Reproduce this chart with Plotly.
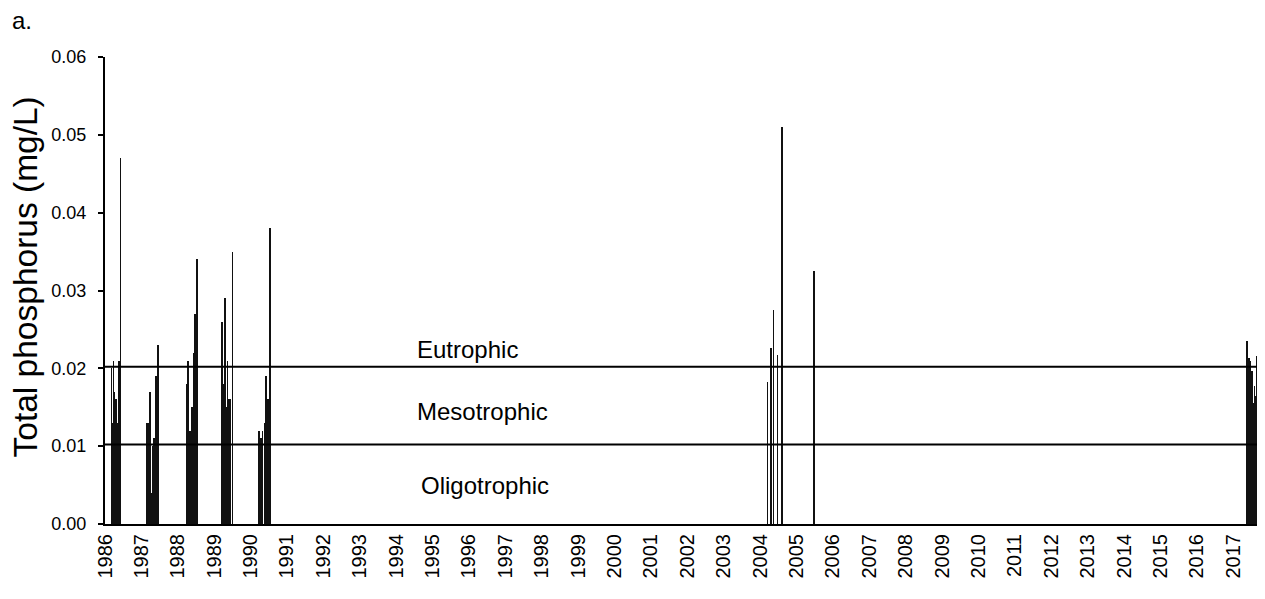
import plotly.graph_objects as go

# Sampling times (decimal years) and total phosphorus (mg/L)
sample_time = [
    1986.18, 1986.21, 1986.23, 1986.25, 1986.28, 1986.30, 1986.32, 1986.35, 1986.38, 1986.43,
    1987.16, 1987.20, 1987.245, 1987.27, 1987.31, 1987.355, 1987.39, 1987.41, 1987.45,
    1988.26, 1988.28, 1988.33, 1988.355, 1988.39, 1988.445, 1988.48, 1988.52,
    1989.21, 1989.255, 1989.29, 1989.325, 1989.37, 1989.415, 1989.45, 1989.50,
    1990.23, 1990.29, 1990.33, 1990.38, 1990.425, 1990.47, 1990.54,
    2004.205, 2004.29, 2004.37, 2004.48, 2004.60,
    2005.49,
    2017.375, 2017.44, 2017.475, 2017.51, 2017.55, 2017.585, 2017.62, 2017.66,
]
tp_values = [
    0.020, 0.013, 0.021, 0.017, 0.016, 0.016, 0.016, 0.013, 0.021, 0.047,
    0.013, 0.013, 0.017, 0.004, 0.010, 0.011, 0.013, 0.019, 0.023,
    0.018, 0.021, 0.012, 0.006, 0.015, 0.022, 0.027, 0.034,
    0.026, 0.018, 0.029, 0.015, 0.021, 0.016, 0.016, 0.035,
    0.012, 0.011, 0.012, 0.013, 0.019, 0.016, 0.038,
    0.0182, 0.0226, 0.0275, 0.0217, 0.051,
    0.0325,
    0.0235, 0.0213, 0.0209, 0.0196, 0.0155, 0.0177, 0.0164, 0.0216,
]

years = list(range(1986, 2018))
year_labels = [str(y) for y in years]

y_ticks = [0.00, 0.01, 0.02, 0.03, 0.04, 0.05, 0.06]

# Trophic-state thresholds (mg/L)
threshold_values = [0.0102, 0.0202]
class_names = ["Eutrophic", "Mesotrophic", "Oligotrophic"]
class_label_y = [0.0224, 0.0145, 0.0050]
class_label_x = [1995.97, 1996.36, 1996.43]

FONT = "Arial, Liberation Sans, sans-serif"

fig = go.Figure()
fig.add_trace(go.Bar(
    x=sample_time, y=tp_values, width=0.019,
    marker=dict(color="#111111", line=dict(width=0)),
    showlegend=False,
))

for tv in threshold_values:
    fig.add_shape(type="line", xref="paper", x0=0, x1=1, yref="y", y0=tv, y1=tv,
                  line=dict(color="black", width=2))

for name, xv, yv in zip(class_names, class_label_x, class_label_y):
    fig.add_annotation(x=xv, y=yv, xref="x", yref="y", text=name, showarrow=False,
                       font=dict(family=FONT, size=24, color="black"),
                       xanchor="center", yanchor="middle")

fig.add_annotation(x=-0.0683, y=0.53, xref="paper", yref="paper",
                   text="Total phosphorus (mg/L)", textangle=-90, showarrow=False,
                   font=dict(family=FONT, size=33.5, color="black"),
                   xanchor="center", yanchor="middle")

fig.add_annotation(x=-0.0825, y=1.079, xref="paper", yref="paper", text="a.",
                   showarrow=False, font=dict(family=FONT, size=24, color="black"),
                   xanchor="left", yanchor="middle")

fig.update_layout(
    width=1257, height=591,
    margin=dict(l=97, r=3, t=49, b=75),
    plot_bgcolor="white", paper_bgcolor="white",
    bargap=0, barmode="overlay",
    font=dict(family=FONT, color="black"),
    xaxis=dict(
        range=[1986, 2017.79], tickmode="array", tickvals=years, ticktext=year_labels,
        tickangle=-90, ticks="", showgrid=False, zeroline=False,
        showline=True, linecolor="black", linewidth=2,
        tickfont=dict(family=FONT, size=20, color="black"),
    ),
    yaxis=dict(
        range=[0, 0.06], tickmode="array", tickvals=y_ticks,
        ticktext=[f"{v:.2f}" for v in y_ticks],
        ticks="outside", ticklen=5, tickwidth=1.5, tickcolor="black",
        ticklabelstandoff=8,
        showgrid=False, zeroline=False,
        showline=True, linecolor="black", linewidth=2,
        tickfont=dict(family=FONT, size=18, color="black"),
    ),
)

fig.write_html("out.html")
